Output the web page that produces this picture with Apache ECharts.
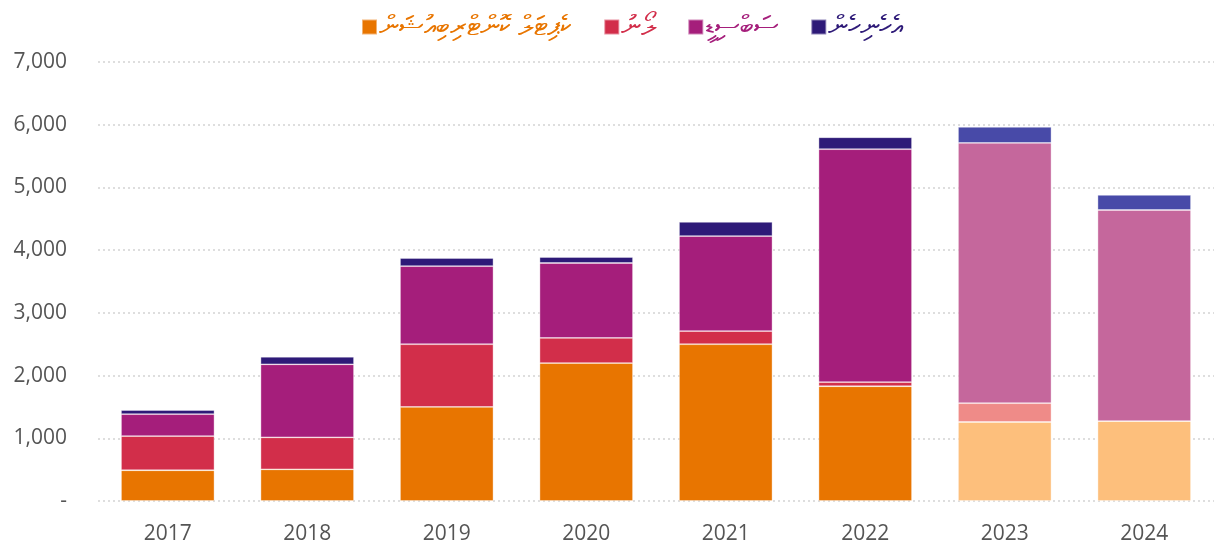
<!DOCTYPE html>
<html>
<head>
<meta charset="utf-8">
<script src="https://cdn.jsdelivr.net/npm/echarts@6/dist/echarts.min.js"></script>
<style>
  html, body { margin: 0; padding: 0; background: #fff; }
  #chart { width: 1219px; height: 550px; }
</style>
</head>
<body>
<div id="chart"></div>
<script>
const years = ['2017', '2018', '2019', '2020', '2021', '2022', '2023', '2024']

// series labels (Dhivehi)
const seriesNames = ['ކެޕިޓަލް ކޮންޓްރިބިއުޝަން', 'ލޯނު', 'ސަބްސިޑީ', 'އެހެނިހެން']

const capital = [490, 505, 1500, 2200, 2500, 1830, 1260, 1275]
const loans = [545, 510, 1000, 400, 210, 65, 300, 0]
const subsidy = [350, 1165, 1245, 1195, 1515, 3715, 4150, 3365]
const other = [65, 120, 130, 95, 225, 190, 255, 240]

const colors = ['#E87500', '#D22E4A', '#A51E7B', '#2E1A78']
// lighter shades used for the last two years
const lightColors = ['#FDBF7C', '#EF8B88', '#C5679C', '#484AA8']
const lightYears = ['2023', '2024']

const font = '"Open Sans", sans-serif'

function buildSeries(name, values, idx) {
  return {
    name,
    type: 'bar',
    stack: 'total',
    barCategoryGap: '33%',
    itemStyle: { color: colors[idx], borderColor: 'rgba(255,255,255,0.45)', borderWidth: 0.8 },
    data: values.map((v, i) => ({
      value: v,
      itemStyle: lightYears.includes(years[i]) ? { color: lightColors[idx] } : undefined
    }))
  }
}

const chart = echarts.init(document.getElementById('chart'))

chart.setOption({
  animation: false,
  color: colors,
  legend: {
    top: 8,
    left: 356,
    itemWidth: 15,
    itemHeight: 15,
    itemGap: 31,
    icon: 'rect',
    textStyle: { fontSize: 28, fontFamily: font, padding: [0, 0, 0, -3] },
    data: seriesNames.map((n, i) => ({ name: n, textStyle: { color: colors[i] } }))
  },
  grid: { left: 98, right: 5, top: 62, bottom: 49 },
  xAxis: {
    type: 'category',
    data: years,
    axisLine: { show: false },
    axisTick: { show: false },
    axisLabel: { color: '#555', fontSize: 21, fontFamily: font, margin: 23 }
  },
  yAxis: {
    type: 'value',
    min: 0,
    max: 7000,
    interval: 1000,
    axisLine: { show: false },
    axisTick: { show: false },
    splitLine: { lineStyle: { color: '#d4d4d4', type: [2, 3], width: 1.5 } },
    axisLabel: {
      color: '#555',
      fontSize: 21,
      fontFamily: font,
      margin: 31,
      formatter: v => v === 0 ? '-' : v.toLocaleString('en-US')
    }
  },
  series: [
    buildSeries(seriesNames[0], capital, 0),
    buildSeries(seriesNames[1], loans, 1),
    buildSeries(seriesNames[2], subsidy, 2),
    buildSeries(seriesNames[3], other, 3)
  ]
})
</script>
</body>
</html>
